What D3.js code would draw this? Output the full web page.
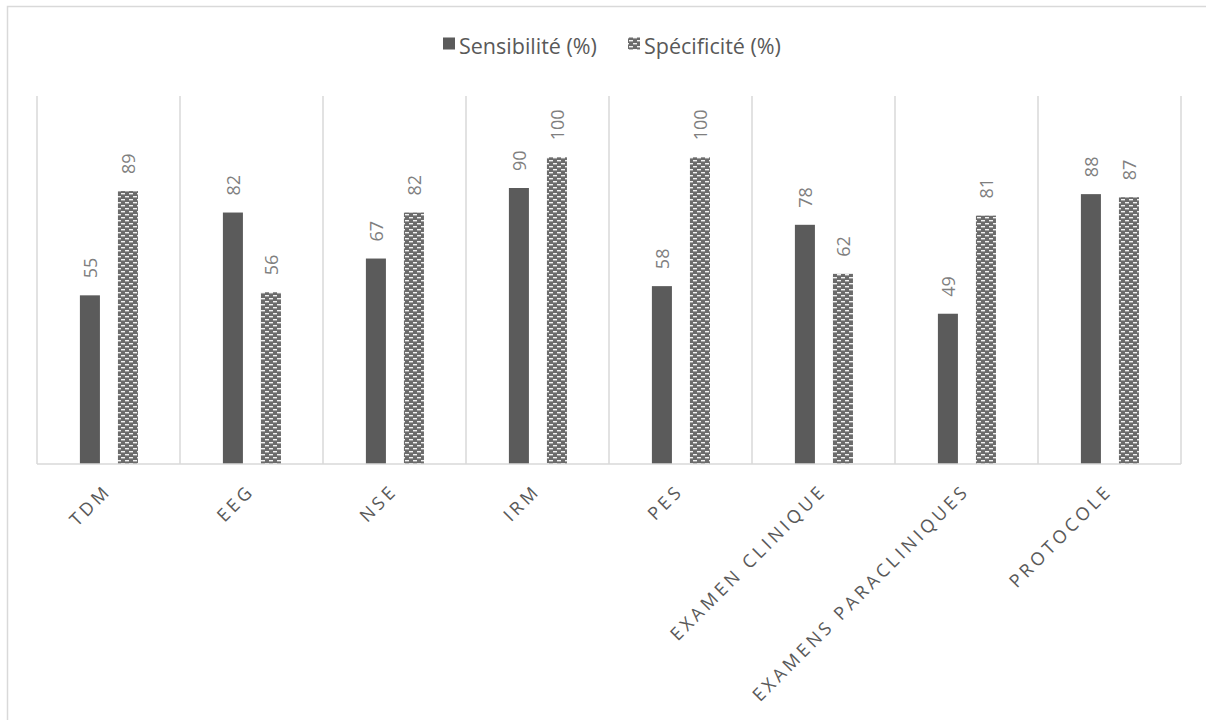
<!DOCTYPE html>
<html><head><meta charset="utf-8">
<script src="https://cdn.jsdelivr.net/npm/d3@7"></script>
<style>body{margin:0;background:#fff;}svg{display:block;}</style>
</head><body><svg id="c" width="1206" height="720"></svg>
<script>
const categories = ["TDM","EEG","NSE","IRM","PES","EXAMEN CLINIQUE","EXAMENS PARACLINIQUES","PROTOCOLE"];
const sensibilite = [55,82,67,90,58,78,49,88];
const specificite = [89,56,82,100,100,62,81,87];
const seriesNames = ["Sensibilité (%)","Spécificité (%)"];
const yMax = 120;

const svg = d3.select("#c");
const font = "'Open Sans', sans-serif";
const plot = {left:37, right:1181, top:96, bottom:464};

// outer frame
svg.append("rect").attr("x",7.5).attr("y",6.5).attr("width",1250).attr("height",800)
  .attr("fill","none").attr("stroke","#d9d9d9").attr("stroke-width",1.5);

const defs = svg.append("defs");
const pat = defs.append("pattern").attr("id","brick").attr("patternUnits","userSpaceOnUse")
  .attr("width",8).attr("height",6);
pat.append("rect").attr("width",8).attr("height",6).attr("fill","#6b6b6b");
pat.append("rect").attr("x",1).attr("y",1).attr("width",4).attr("height",1.4).attr("fill","#f2f2f2");
pat.append("rect").attr("x",5).attr("y",4).attr("width",4).attr("height",1.4).attr("fill","#f2f2f2");
pat.append("rect").attr("x",-3).attr("y",4).attr("width",4).attr("height",1.4).attr("fill","#f2f2f2");

const x = d3.scaleBand().domain(categories).range([plot.left, plot.right]).padding(0);
const y = d3.scaleLinear().domain([0,yMax]).range([plot.bottom, plot.top]);

// vertical gridlines at category boundaries
const bounds = categories.map(c => x(c)).concat([plot.right]);
svg.append("g").selectAll("line").data(bounds).join("line")
  .attr("x1",d=>d).attr("x2",d=>d).attr("y1",plot.top).attr("y2",plot.bottom)
  .attr("stroke","#d9d9d9").attr("stroke-width",1.5);

const bw = x.bandwidth();
const barW = bw*0.14;
const off = [bw*0.30, bw*0.566];
const series = [sensibilite, specificite];
const fills = ["#5b5b5b","url(#brick)"];

series.forEach((vals,si)=>{
  const g = svg.append("g");
  g.selectAll("rect").data(vals).join("rect")
    .attr("x",(d,i)=>x(categories[i]) + off[si])
    .attr("y",d=>y(d)).attr("width",barW).attr("height",d=>plot.bottom - y(d))
    .attr("fill",fills[si]);
  g.selectAll("text").data(vals).join("text")
    .attr("transform",(d,i)=>`translate(${x(categories[i]) + off[si] + barW/2 + 7},${y(d)-17}) rotate(-90)`)
    .attr("font-family",font).attr("font-size",18).attr("fill","#7f7f7f")
    .text(d=>d);
});

// baseline
svg.append("line").attr("x1",plot.left).attr("x2",plot.right).attr("y1",plot.bottom).attr("y2",plot.bottom)
  .attr("stroke","#d9d9d9").attr("stroke-width",1.5);

// x labels
svg.append("g").selectAll("text").data(categories).join("text")
  .attr("transform",d=>`translate(${x(d)+bw/2+4},${plot.bottom+28}) rotate(-45)`)
  .attr("text-anchor","end").attr("font-family",font).attr("font-size",18)
  .attr("letter-spacing","3.6px").attr("fill","#595959").text(d=>d);

// legend
const leg = svg.append("g");
const legX = [443, 628];
seriesNames.forEach((n,i)=>{
  leg.append("rect").attr("x",legX[i]).attr("y",37.5).attr("width",12).attr("height",12).attr("fill",fills[i]);
  leg.append("text").attr("x",legX[i]+16).attr("y",54).attr("font-family",font).attr("font-size",21.5)
    .attr("fill","#595959").text(n);
});
</script></body></html>
